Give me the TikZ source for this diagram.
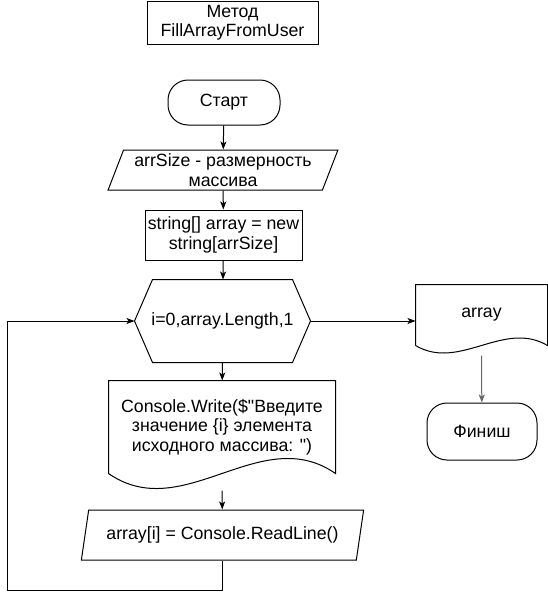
\documentclass[tikz,border=0pt]{standalone}
\usepackage{fontspec}
\setmainfont{Liberation Sans}[Ligatures=TeXOff]
\usetikzlibrary{arrows.meta,shapes.geometric}

\begin{document}
\begin{tikzpicture}[x=0.75pt, y=-0.75pt, line width=0.75pt,
  every node/.style={font=\fontsize{13.3}{14.6}\selectfont, align=center, inner sep=0pt},
  titlebox/.style={draw, minimum width=128.25pt, minimum height=32.25pt},
  termbox/.style={draw, rounded corners=15pt},
  iobox/.style={draw, trapezium, trapezium stretches=true},
  procbox/.style={draw, minimum width=117.75pt, minimum height=37.5pt},
  loopbox/.style={minimum width=131.25pt, minimum height=61.5pt},
  docbox/.style={minimum width=#1},
  flow/.style={-{Stealth[length=6pt, width=4.5pt, inset=1.5pt]}}]
  \useasboundingbox (0,0) rectangle (548,600);
  \node[titlebox] (title) at (232.5,22.5) {Метод\\FillArrayFromUser};
  \node[termbox, minimum width=84pt, minimum height=33.75pt] (start) at (224,102.5) {Старт};
  \node[iobox, trapezium left angle=67, trapezium right angle=113, minimum width=172.5pt, minimum height=30pt] (size) at (223,170) {arrSize - размерность\\массива};
  \node[procbox] (alloc) at (223.5,235) {string[] array = new\\string[arrSize]};
  \node[loopbox] (loop) at (222.5,321) {i=0,array.Length,1};
  \node[docbox=169.5pt, minimum height=69pt] (prompt) at (222,427) {Console.Write(\$"Введите\\значение \{i\} элемента\\исходного массива: ")};
  \node[iobox, trapezium left angle=69, trapezium right angle=111, minimum width=212.25pt, minimum height=37.5pt] (read) at (222.5,535) {array[i] = Console.ReadLine()};
  \node[docbox=98.25pt, minimum height=45pt] (result) at (481.5,315) {array};
  \node[termbox, minimum width=82.5pt, minimum height=42.75pt] (finish) at (482,431.5) {Финиш};
  \coordinate (back) at (7,590);

  \draw (loop.west) -- ([xshift=13.5pt]loop.north west) -- ([xshift=-13.5pt]loop.north east)
    -- (loop.east) -- ([xshift=-13.5pt]loop.south east) -- ([xshift=13.5pt]loop.south west) -- cycle;
  \draw (prompt.south west) -- (prompt.north west) -- (prompt.north east) -- (prompt.south east)
    .. controls +(-75,-52) and +(75,52) .. (prompt.south west);
  \draw (result.south west) -- (result.north west) -- (result.north east) -- (result.south east)
    .. controls +(-44,-26) and +(44,26) .. (result.south west);

  \draw[flow] (start) -- (size);
  \draw[flow] (size) -- (alloc);
  \draw[flow] (alloc) -- (loop);
  \draw[flow] (loop) -- (prompt);
  \draw[flow] ([yshift=-12.75pt]prompt.south) -- (read);
  \draw[flow] (read.south) |- (back) |- (loop.west);
  \draw[flow] (loop.east) -- (loop.east -| result.west);
  \draw[flow, black!60] ([yshift=-7.5pt]result.south) -- (finish);
\end{tikzpicture}
\end{document}
